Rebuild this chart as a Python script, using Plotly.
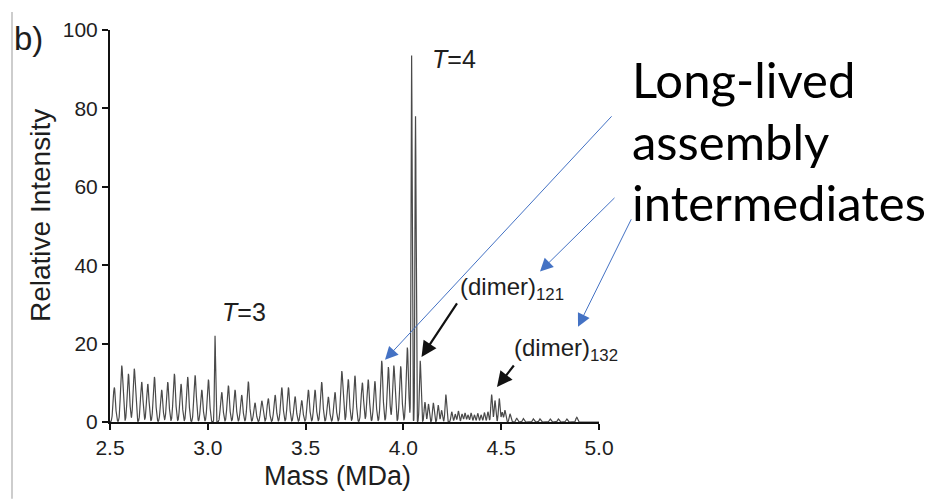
import numpy as np
import plotly.graph_objects as go

# ---- data ----
peak_mass = [2.522, 2.560, 2.594, 2.624, 2.662, 2.693, 2.727, 2.764, 2.795, 2.829,
             2.863, 2.897, 2.935, 2.969, 3.003, 3.037, 3.071, 3.105, 3.139, 3.173,
             3.207, 3.241, 3.276, 3.309, 3.344, 3.378, 3.412, 3.446, 3.480, 3.514,
             3.548, 3.582, 3.616, 3.650, 3.685, 3.718, 3.752, 3.790, 3.820, 3.854,
             3.889, 3.923, 3.951, 3.986, 4.020, 4.042, 4.062, 4.086, 4.110, 4.128,
             4.153, 4.178, 4.195, 4.217, 4.247, 4.265, 4.281, 4.300, 4.315, 4.330,
             4.346, 4.363, 4.380, 4.397, 4.414, 4.432, 4.451, 4.468, 4.490, 4.505,
             4.519, 4.545, 4.579, 4.613, 4.664, 4.698, 4.750, 4.792, 4.835, 4.886]
peak_height = [8.8, 14.4, 12.3, 13.6, 10.2, 9.7, 11.5, 8.2, 10.2, 12.3,
               9.7, 11.5, 11.9, 8.2, 10.8, 22.0, 7.6, 9.3, 8.2, 6.9,
               10.3, 4.9, 5.4, 6.0, 6.9, 8.8, 8.8, 6.5, 5.5, 8.2,
               8.2, 10.2, 6.4, 7.6, 13.0, 10.9, 11.8, 10.0, 10.8, 10.4,
               15.6, 14.0, 14.4, 14.2, 19.0, 93.5, 78.0, 15.6, 5.1, 4.6,
               4.9, 4.3, 3.0, 7.0, 2.6, 2.0, 2.8, 2.0, 2.3, 1.8,
               2.3, 1.8, 2.2, 1.8, 2.4, 2.6, 7.0, 5.5, 6.0, 2.5,
               3.0, 2.1, 1.0, 0.9, 0.8, 0.8, 0.8, 0.8, 0.8, 1.2]
peak_sigma = [0.0060] * len(peak_mass)
for i, m in enumerate(peak_mass):
    if m in (3.037, 4.042, 4.062):
        peak_sigma[i] = 0.0028
    elif m > 4.08:
        peak_sigma[i] = 0.0040

x_ticks = [2.5, 3.0, 3.5, 4.0, 4.5, 5.0]
y_ticks = [0, 20, 40, 60, 80, 100]

mass = np.linspace(2.5, 5.0, 5001)
intensity = np.zeros_like(mass)
for c, h, s in zip(peak_mass, peak_height, peak_sigma):
    intensity += h * np.exp(-0.5 * ((mass - c) / s) ** 2)

# ---- layout geometry (reference pixels); page body adds an 8 px offset ----
OFF = 8
W, H = 934 - OFF, 501 - OFF
L, R, T, B = 110, 599, 18.5, 422


def PX(px):
    return (px - L) / (R - L)


def PY(py):
    return (B - py) / (B - T)


fig = go.Figure()
fig.add_trace(go.Scatter(x=mass, y=intensity, mode="lines",
                         line=dict(color="#4a4a4a", width=1.2),
                         hoverinfo="skip", showlegend=False))

font_main = "Liberation Sans, Arial, sans-serif"
txt = "#1e1e1e"

fig.update_layout(
    width=W, height=H,
    margin=dict(l=L - OFF, r=W - (R - OFF), t=T - OFF, b=H - (B - OFF), pad=0),
    paper_bgcolor="white", plot_bgcolor="white",
    showlegend=False,
    font=dict(family=font_main, color=txt),
)
fig.update_xaxes(range=[2.5, 5.0], tickvals=x_ticks, ticktext=[f"{v:.1f}" for v in x_ticks],
                 showline=True, linecolor="#111", linewidth=2, mirror=False,
                 ticks="outside", ticklen=6, tickwidth=2, tickcolor="#111",
                 showgrid=False, zeroline=False, ticklabeloverflow="allow",
                 tickfont=dict(size=21, color=txt, family=font_main))
fig.update_yaxes(range=[0, 100], tickvals=y_ticks,
                 showline=True, linecolor="#111", linewidth=2,
                 ticks="outside", ticklen=6, tickwidth=2, tickcolor="#111",
                 showgrid=False, zeroline=False, ticklabeloverflow="allow",
                 tickfont=dict(size=21, color=txt, family=font_main))

ann = []
# axis titles
ann.append(dict(text="Mass (MDa)", x=PX(337), y=PY(478), xref="paper", yref="paper",
                showarrow=False, font=dict(size=27, family=font_main, color=txt),
                xanchor="center", yanchor="middle"))
ann.append(dict(text="Relative Intensity", x=PX(40), y=PY(210), xref="paper", yref="paper",
                showarrow=False, textangle=-90, font=dict(size=28, family=font_main, color=txt),
                xanchor="center", yanchor="middle"))
# panel label
ann.append(dict(text="b)", x=PX(28), y=PY(27), xref="paper", yref="paper",
                showarrow=False, font=dict(size=33, family=font_main, color=txt),
                xanchor="center", yanchor="middle"))
# peak labels
ann.append(dict(text="<i>T</i>=3", x=PX(244), y=PY(309), xref="paper", yref="paper",
                showarrow=False, font=dict(size=25, family=font_main, color=txt),
                xanchor="center", yanchor="middle"))
ann.append(dict(text="<i>T</i>=4", x=PX(454), y=PY(48), xref="paper", yref="paper",
                showarrow=False, font=dict(size=25, family=font_main, color=txt),
                xanchor="center", yanchor="middle"))
ann.append(dict(text="(dimer)<sub>121</sub>", x=PX(458), y=PY(285), xref="paper", yref="paper",
                showarrow=False, font=dict(size=24, family=font_main, color=txt),
                xanchor="left", yanchor="middle"))
ann.append(dict(text="(dimer)<sub>132</sub>", x=PX(512), y=PY(347), xref="paper", yref="paper",
                showarrow=False, font=dict(size=24, family=font_main, color=txt),
                xanchor="left", yanchor="middle"))
# big label
big_font = dict(size=49, family="Lato, Calibri, sans-serif", color="#000")
for line, cy in [("Long-lived", 69), ("assembly", 133), ("intermediates", 196)]:
    ann.append(dict(text=line, x=PX(630), y=PY(cy), xref="paper", yref="paper",
                    showarrow=False, font=big_font, xanchor="left", yanchor="middle"))


def arrow(tail, tip, color, width, size):
    return dict(text="", x=PX(tip[0]), y=PY(tip[1]), xref="paper", yref="paper",
                ax=tail[0] - tip[0], ay=tail[1] - tip[1], axref="pixel", ayref="pixel",
                showarrow=True, arrowhead=2, arrowsize=size, arrowwidth=width,
                arrowcolor=color, standoff=0, startstandoff=0)


blue = "#4472C4"
ann.append(arrow((613, 113), (385, 358), blue, 1, 2.6))
ann.append(arrow((616, 192), (540, 267), blue, 1, 2.6))
ann.append(arrow((632, 215), (578, 324), blue, 1, 2.6))
ann.append(arrow((458, 300), (421.5, 355), "#111", 2.2, 1.4))
ann.append(arrow((515, 363), (497, 386), "#111", 2.2, 1.4))

fig.update_layout(annotations=ann)

# thin grey border line at the far left of the slide
fig.add_shape(type="line", xref="paper", yref="paper",
              x0=PX(12), x1=PX(12), y0=PY(501), y1=PY(0),
              line=dict(color="#bdbdbd", width=1.5))

fig.write_html("out.html")
